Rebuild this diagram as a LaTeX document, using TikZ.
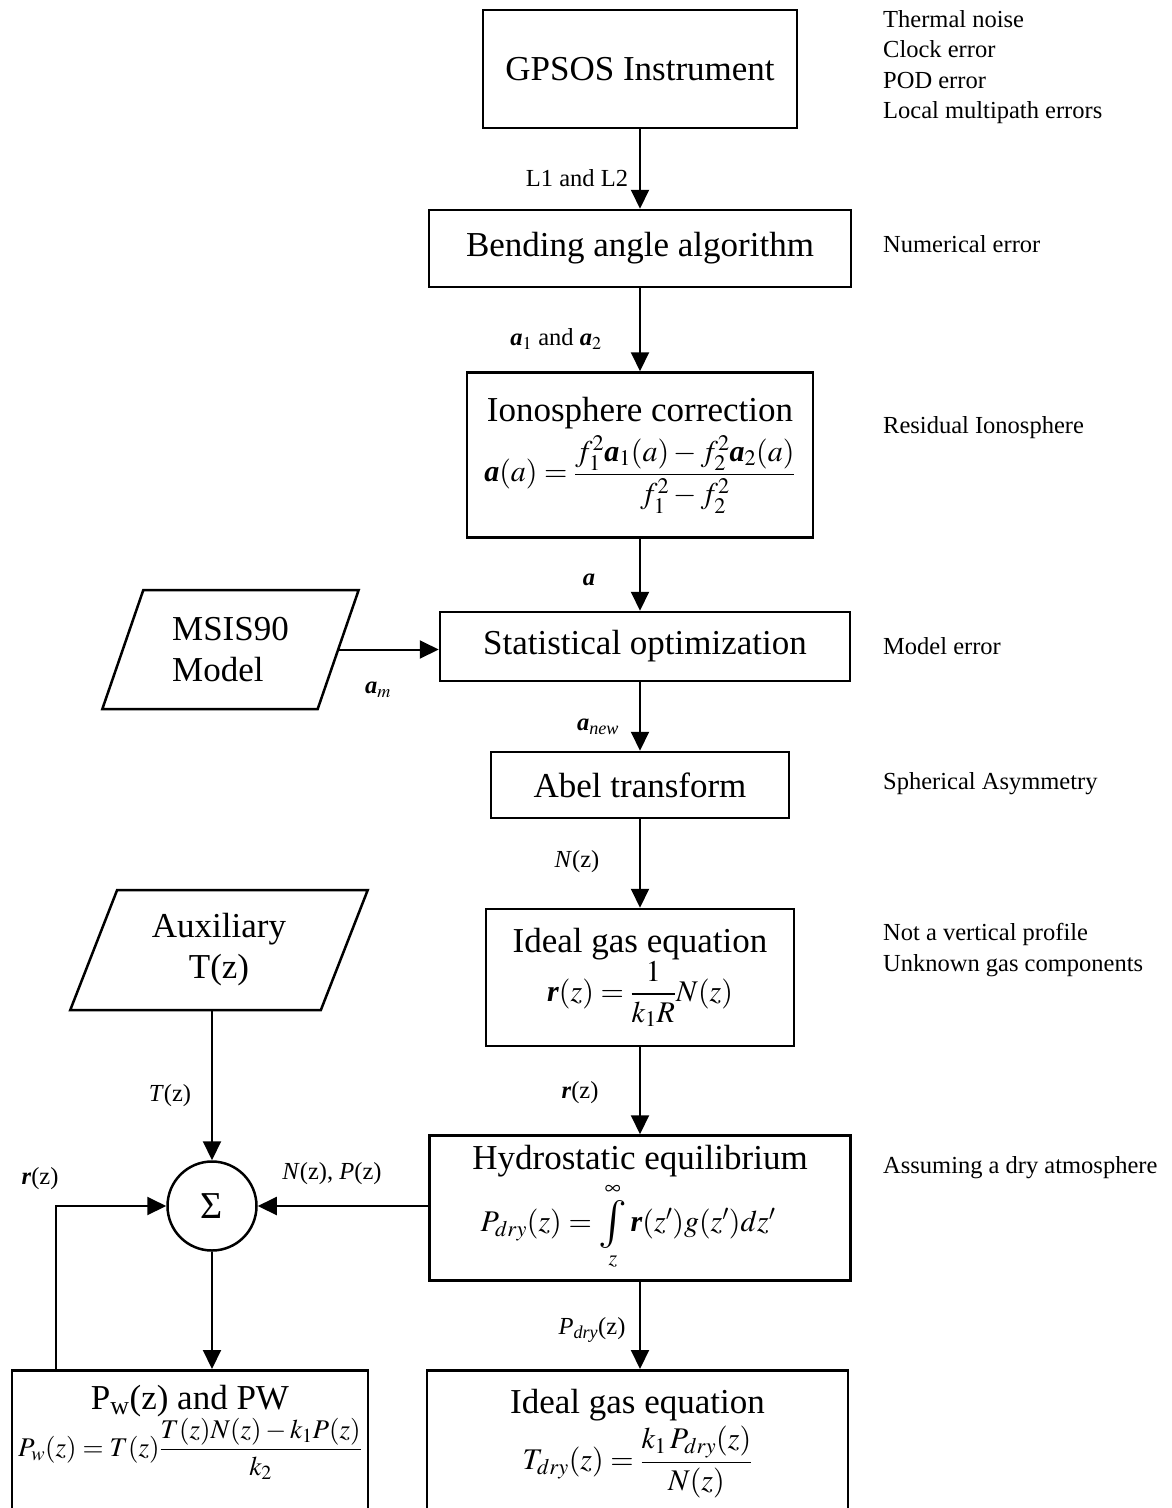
\documentclass[tikz,border=0pt]{standalone}
\usepackage{amsmath}
\usepackage{mathptmx}
\usepackage{fontspec}
\setmainfont{Liberation Serif}
\usetikzlibrary{arrows.meta,positioning,shapes.geometric}

\newcommand{\alphab}{\textbf{\textit{a}}}
\newcommand{\rhob}{\textbf{\textit{r}}}
\newcommand{\boxsize}{\fontsize{35}{41}\selectfont}
\newcommand{\eqsize}{\fontsize{30}{36}\selectfont}
\newcommand{\notesize}{\fontsize{24.5}{30.5}\selectfont}
\newcommand{\bigint}{\mathop{\vcenter{\hbox{\scalebox{1.6}{$\textstyle\int$}}}}\limits}

\begin{document}
\begin{tikzpicture}[
    x=1pt, y=-1pt,
    box/.style={draw, rectangle, line width=2.5pt, inner sep=0pt, font=\boxsize, align=center},
    para/.style={draw, trapezium, trapezium stretches=true, trapezium left angle=67,
                 trapezium right angle=113, line width=2.5pt, inner sep=0pt, font=\boxsize},
    sumnode/.style={draw, circle, line width=2.5pt, minimum size=89pt, inner sep=0pt, font=\fontsize{38}{40}\selectfont},
    note/.style={anchor=west, align=left, inner sep=0pt, font=\notesize},
    lbl/.style={inner sep=0pt, font=\notesize},
    arr/.style={-{Triangle[length=19pt,width=18pt]}, line width=2pt},
]
\useasboundingbox (0,0) rectangle (1171,1508);
\clip (0,0) rectangle (1171,1508);

% Main column
\node[box, minimum width=314pt, minimum height=118pt] (inst) at (640,69) {GPSOS Instrument};
\node[box, minimum width=422pt, minimum height=77pt] (bend) at (640,248.5) {Bending angle algorithm};
\node[box, minimum width=346pt, minimum height=165pt] (iono) at (640,455)
    {Ionosphere correction\\[6pt]
     {\eqsize $\displaystyle \alphab(a)=\frac{f_1^2\alphab_1(a)-f_2^2\alphab_2(a)}{f_1^2-f_2^2}$}};
\node[box, minimum width=410pt, minimum height=69pt] (stat) at (645,646.5) {Statistical optimization};
\node[box, minimum width=298pt, minimum height=66pt] (abel) at (640,785) {Abel transform};
\node[box, minimum width=308pt, minimum height=137pt] (igas) at (640,977.5)
    {Ideal gas equation\\
     {\eqsize $\displaystyle \rhob(z)=\frac{1}{k_1R}N(z)$}};
\node[box, minimum width=421pt, minimum height=145pt] (hydro) at (640,1208)
    {Hydrostatic equilibrium\\[4pt]
     {\eqsize $P_{dry}(z)=\bigint_z^\infty \rhob(z')g(z')dz'$}\hspace*{24pt}};

% Bottom boxes (cut by the page edge)
\node[box, minimum width=356pt, minimum height=220pt, anchor=north] (pw) at (190,1369) {};
\node[below=16pt of pw.north, align=center, inner sep=0pt, font=\boxsize] (pwtxt)
    {P$_\text{w}$(z) and PW\\[0pt]
     {\fontsize{27}{32}\selectfont $\displaystyle P_w(z)=T(z)\frac{T(z)N(z)-k_1P(z)}{k_2}$}};
\node[box, minimum width=421pt, minimum height=220pt, anchor=north] (tdry) at (637.5,1369) {};
\node[below=20pt of tdry.north, align=center, inner sep=0pt, font=\boxsize] (tdrytxt)
    {Ideal gas equation\\[4pt]
     {\eqsize $\displaystyle T_{dry}(z)=\frac{k_1\,P_{dry}(z)}{N(z)}$}};

% Inputs on the left
\node[para, minimum width=257pt, minimum height=119pt, align=left] (msis) at (230.5,649.5) {MSIS90\\Model};
\node[para, minimum width=298pt, minimum height=120pt, align=center] (aux) at (219,950) {Auxiliary\\T(z)};
\node[sumnode] (sigma) at (212,1206) {Σ};

% Error sources
\node[note] (n1) at (883,67) {Thermal noise\\Clock error\\POD error\\Local multipath errors};
\node[note] (n2) at (883,244) {Numerical error};
\node[note] (n3) at (883,428) {Residual Ionosphere};
\node[note] (n4) at (883,646) {Model error};
\node[note] (n5) at (883,784) {Spherical Asymmetry};
\node[note] (n6) at (883,950) {Not a vertical profile\\Unknown gas components};
\node[note] (n7) at (883,1168) {Assuming a dry atmosphere};

% Connectors
\draw[arr] (inst) -- (bend);
\draw[arr] (bend) -- (iono);
\draw[arr] (iono.south) -- (iono.south |- stat.north);
\draw[arr] (iono.south |- stat.south) -- (abel.north);
\draw[arr] (abel) -- (igas);
\draw[arr] (igas) -- (hydro);
\draw[arr] (hydro.south) -- (hydro.south |- tdry.north);
\draw[arr] (msis.east) -- (msis.east -| stat.west);
\draw[arr] (sigma.north |- aux.south) -- (sigma.north);
\draw[arr] (sigma.east -| hydro.west) -- (sigma.east);
\draw[arr] (sigma.south) -- (sigma.south |- pw.north);
\draw[arr] ([xshift=45pt]pw.north west) |- (sigma.west);

% Connector labels
\node[lbl] (l1) at (577,178) {L1 and L2};
\node[lbl] (l2) at (556,339) {$\alphab_1$ and $\alphab_2$};
\node[lbl] (l3) at (589,580) {\alphab};
\node[lbl] (l4) at (378,690) {$\alphab_m$};
\node[lbl] (l5) at (598,727) {$\alphab_{\textit{new}}$};
\node[lbl] (l6) at (577,862) {\textit{N}(z)};
\node[lbl] (l7) at (580,1093) {\rhob(z)};
\node[lbl] (l8) at (170,1096) {\textit{T}(z)};
\node[lbl] (l9) at (40,1179) {\rhob(z)};
\node[lbl] (l10) at (332,1174) {\textit{N}(z), \textit{P}(z)};
\node[lbl] (l11) at (592,1330) {$\textit{P}_{\textit{dry}}$(z)};
\end{tikzpicture}
\end{document}
